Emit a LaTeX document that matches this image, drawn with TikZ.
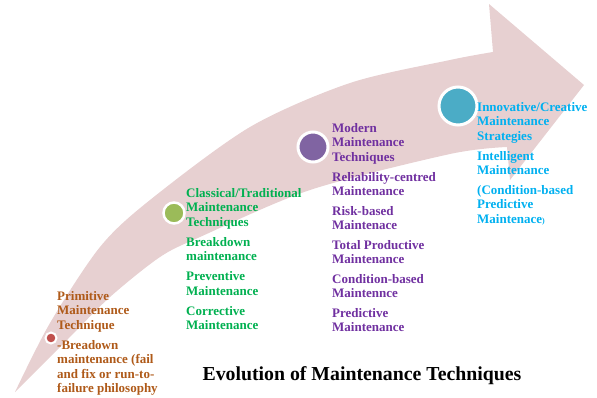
\documentclass[tikz,border=0pt]{standalone}
\usepackage{fontspec}
\setmainfont{Liberation Serif}
\definecolor{arrowpink}{RGB}{231,208,209}
\definecolor{dotred}{RGB}{192,80,77}
\definecolor{dotgreen}{RGB}{155,187,89}
\definecolor{dotpurple}{RGB}{128,100,162}
\definecolor{dotteal}{RGB}{75,172,198}
\definecolor{txtbrown}{RGB}{175,90,25}
\definecolor{txtgreen}{RGB}{0,176,80}
\definecolor{txtpurple}{RGB}{112,48,160}
\definecolor{txtcyan}{RGB}{0,176,240}

\begin{document}
\begin{tikzpicture}[x=1pt, y=-1pt,
  dot/.style={circle, draw=white, inner sep=0pt},
  stage/.style={anchor=north west, align=left, inner sep=0pt,
    font=\fontsize{13}{14.5}\selectfont\bfseries}]
  \useasboundingbox (0,0) rectangle (597,397);

  % the big arrow
  \fill[arrowpink] (15,392)
    -- plot[smooth] coordinates {(15,392) (50,323) (100,247) (150,200) (250,127) (350,83) (450,60) (493,52)}
    -- (489,4) -- (584,85) -- (510,180) -- (507,147)
    -- plot[smooth] coordinates {(507,147) (450,154) (310,190) (200,237) (160,257) (110,297) (67,340) (15,392)}
    -- cycle;

  % stages on the arrow
  \node[dot, fill=dotred, line width=2pt, minimum size=11pt] (primdot) at (51,338) {};
  \node[dot, fill=dotgreen, line width=2.5pt, minimum size=21pt] (classdot) at (174,213) {};
  \node[dot, fill=dotpurple, line width=3pt, minimum size=30pt] (moddot) at (313,147) {};
  \node[dot, fill=dotteal, line width=3pt, minimum size=38pt] (innodot) at (458,106) {};

  \node[stage, text=txtbrown] (primtxt) at (57,291)
    {Primitive\\Maintenance\\Technique\\[5.5pt]
     -Breadown\\maintenance (fail\\and fix or run-to-\\failure philosophy};
  \node[stage, text=txtgreen] (classtxt) at (186,188)
    {Classical/Traditional\\Maintenance\\Techniques\\[5.5pt]
     Breakdown\\maintenance\\[5.5pt]
     Preventive\\Maintenance\\[5.5pt]
     Corrective\\Maintenance};
  \node[stage, text=txtpurple] (modtxt) at (332,123)
    {Modern\\Maintenance\\Techniques\\[5.5pt]
     Reliability-centred\\Maintenance\\[5pt]
     Risk-based\\Maintenace\\[5pt]
     Total Productive\\Maintenance\\[5pt]
     Condition-based\\Maintennce\\[5pt]
     Predictive\\Maintenance};
  \node[stage, text=txtcyan] (innotxt) at (477,102)
    {Innovative/Creative\\Maintenance\\Strategies\\[5.5pt]
     Intelligent\\Maintenance\\[5pt]
     (Condition-based\\Predictive\\Maintenace{\fontsize{8}{8}\selectfont)}};

  \node[font=\fontsize{19.8}{22}\selectfont\bfseries] (title) at (362,376)
    {Evolution of Maintenance Techniques};
\end{tikzpicture}
\end{document}
